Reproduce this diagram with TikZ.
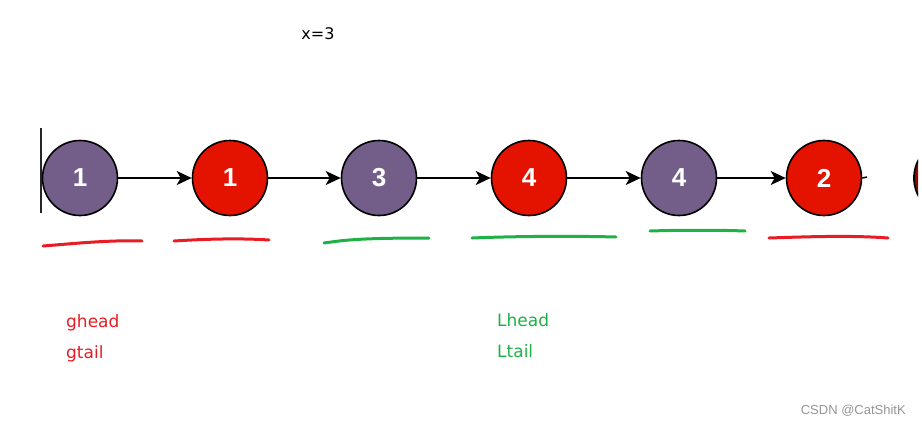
\documentclass[tikz,border=0pt]{standalone}
\usepackage{fontspec}
\setmainfont{DejaVu Sans}
\newfontfamily\numfont{Liberation Sans}
\usetikzlibrary{arrows.meta}
\definecolor{lpurple}{RGB}{115,94,138}
\definecolor{lred}{RGB}{227,19,0}
\definecolor{ured}{RGB}{232,28,36}
\definecolor{ugreen}{RGB}{30,178,70}
\definecolor{wmgrey}{RGB}{150,150,150}
\tikzset{
  listnode/.style={circle, draw=black, line width=1.6pt, minimum size=75pt, inner sep=0pt,
    text=white, font=\numfont\bfseries\fontsize{26}{26}\selectfont},
  pnode/.style={listnode, fill=lpurple},
  rnode/.style={listnode, fill=lred},
  link/.style={draw=black, line width=1.5pt, -{Stealth[length=15pt,width=14pt,inset=4pt]}},
  redmark/.style={draw=ured, line width=3pt, line cap=round},
  greenmark/.style={draw=ugreen, line width=3pt, line cap=round},
  lbl/.style={anchor=base west, inner sep=0pt, font=\fontsize{17}{17}\selectfont}
}
\begin{document}
\begin{tikzpicture}[x=1pt,y=-1pt]
\useasboundingbox (0,0) rectangle (922,424);
\fill[white] (0,0) rectangle (922,424);
% top label
\node[anchor=base, inner sep=0pt, font=\fontsize{16}{16}\selectfont] (xlbl) at (318,39) {x=3};
% vertical bar
\coordinate (vb1) at (41,128);
\coordinate (vb2) at (41,213);
\draw[line width=1.6pt, black!85] (vb1) -- (vb2);
% nodes
\node[pnode] (c1) at (80,178) {1};
\node[rnode] (c2) at (230,178) {1};
\node[pnode] (c3) at (379,178) {3};
\node[rnode] (c4) at (529,178) {4};
\node[pnode] (c5) at (679,178) {4};
\node[rnode] (c6) at (824,178) {2};
% links
\draw[link] (c1) -- (c2);
\draw[link] (c2) -- (c3);
\draw[link] (c3) -- (c4);
\draw[link] (c4) -- (c5);
\draw[link] (c5) -- (c6);
\coordinate (tailend) at (867,177);
\draw[draw=black, line width=1.5pt] (c6.east) -- (tailend);
% partial next node at the right edge
\begin{scope}
  \clip (911,140) rectangle (918,216);
  \draw[line width=1.8pt, fill=lred!60!black] (952,178) circle (38);
\end{scope}
% hand-drawn underlines
\draw[redmark] (43,246) .. controls (80,243) and (110,240) .. (142,241);
\draw[redmark] (174,241) .. controls (205,239) and (240,238) .. (269,240);
\draw[greenmark] (324,243) .. controls (345,240) and (360,238) .. (429,238);
\draw[greenmark] (472,238) .. controls (520,236) and (580,236) .. (616,237);
\draw[greenmark] (650,231) .. controls (680,230) and (720,230) .. (745,231);
\draw[redmark] (769,238) .. controls (800,237) and (850,235) .. (888,238);
% labels
\node[lbl, text=ured] (gh) at (66,327) {ghead};
\node[lbl, text=ured] (gt) at (66,358) {gtail};
\node[lbl, text=ugreen] (lh) at (497,326) {Lhead};
\node[lbl, text=ugreen] (lt) at (497,357) {Ltail};
% watermark
\node[anchor=base east, inner sep=0pt, text=wmgrey, font=\numfont\fontsize{13}{13}\selectfont] (wm) at (906,414) {CSDN @CatShitK};
\end{tikzpicture}
\end{document}
